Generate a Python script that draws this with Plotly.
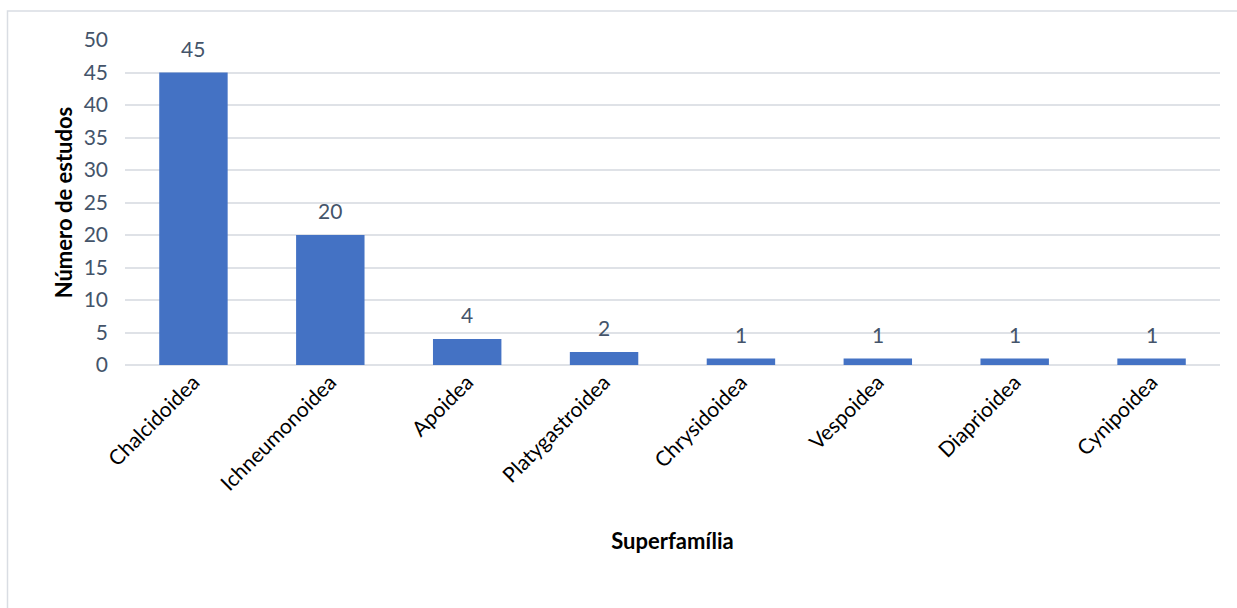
import plotly.graph_objects as go

categories = ["Chalcidoidea", "Ichneumonoidea", "Apoidea", "Platygastroidea",
              "Chrysidoidea", "Vespoidea", "Diaprioidea", "Cynipoidea"]
values = [45, 20, 4, 2, 1, 1, 1, 1]
y_ticks = [0, 5, 10, 15, 20, 25, 30, 35, 40, 45, 50]

W, H = 1237, 608
L, R, T, B = 125, 17, 40, 243
pw, ph = W - L - R, H - T - B

FONT = "Lato, Calibri, sans-serif"
TICK_COLOR = "#44546a"

fig = go.Figure(go.Bar(
    x=categories, y=values,
    marker=dict(color="#4472c4", line=dict(width=0)),
    width=0.5,
    cliponaxis=False,
    hoverinfo="x+y",
))

for c, v in zip(categories, values):
    fig.add_annotation(x=c, y=v, xref="x", yref="y", text=str(v), showarrow=False,
                       yanchor="bottom", yshift=10,
                       font=dict(family=FONT, size=21, color=TICK_COLOR))

def px(x):
    return (x - L) / pw

def py(y):
    return (H - B - y) / ph

fig.add_shape(type="rect", xref="paper", yref="paper",
              x0=px(7.5), x1=px(1245), y0=py(11), y1=py(620),
              line=dict(color="#d9dde3", width=1.5), fillcolor="rgba(0,0,0,0)", layer="below")

fig.update_layout(
    width=W, height=H,
    margin=dict(l=L, r=R, t=T, b=B, autoexpand=False),
    paper_bgcolor="white", plot_bgcolor="white",
    showlegend=False,
    bargap=0.5,
    font=dict(family=FONT),
    xaxis=dict(
        tickangle=-45,
        tickfont=dict(family=FONT, size=21, color="black"),
        showgrid=False, showline=False, zeroline=False,
        ticks="", automargin=False,
        title=dict(text="<b>Superfamília</b>", font=dict(family=FONT, size=22, color="black"), standoff=39),
    ),
    yaxis=dict(
        range=[0, 50], tickvals=y_ticks,
        tickfont=dict(family=FONT, size=21, color=TICK_COLOR),
        showgrid=True, gridcolor="#dfe2e7", gridwidth=1.5,
        zeroline=True, zerolinecolor="#dfe2e7", zerolinewidth=1.5,
        showline=False, ticks="", ticklabelstandoff=16, automargin=False,
        title=dict(text="<b>Número de estudos</b>", font=dict(family=FONT, size=22, color="black"), standoff=4),
    ),
)

fig.write_html("out.html")
